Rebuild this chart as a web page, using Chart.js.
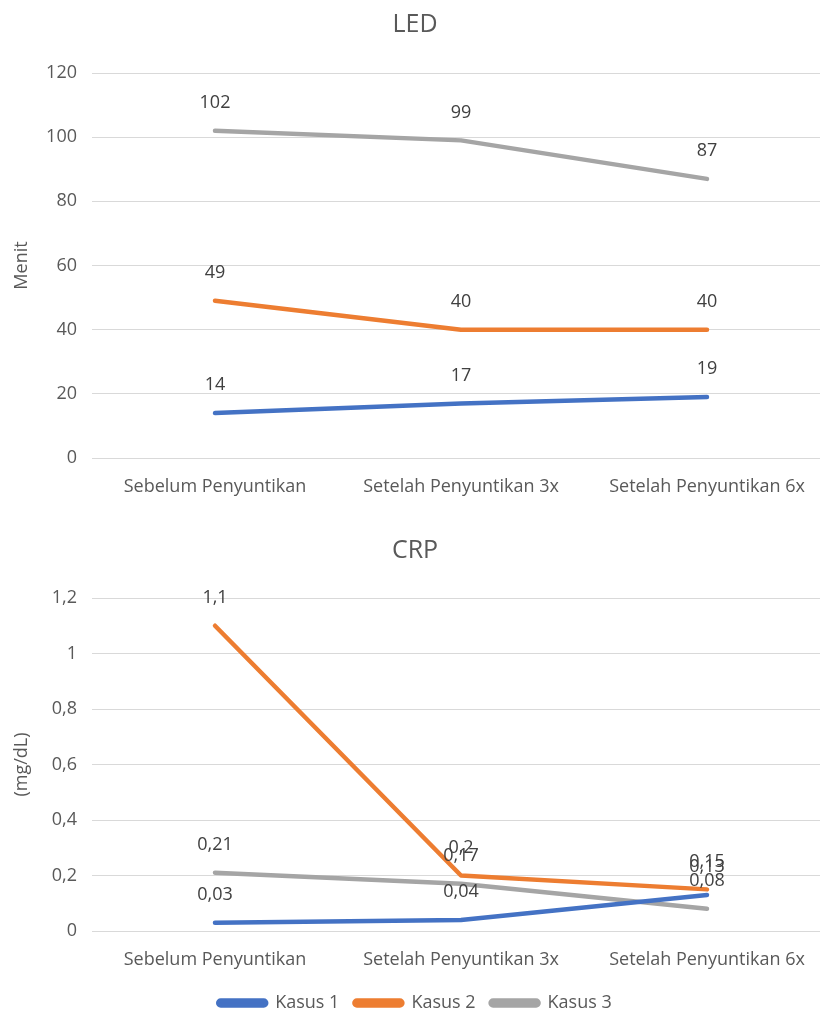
<!DOCTYPE html>
<html>
<head>
<meta charset="utf-8">
<script src="https://cdn.jsdelivr.net/npm/chart.js@4.4.1/dist/chart.umd.min.js"></script>
<style>
  html, body { margin: 0; padding: 0; background: #fff; overflow: hidden; width: 820px; height: 1012px; }
  #w1 { position: absolute; left: 0; top: 0; width: 830px; height: 498px; }
  #w2 { position: absolute; left: 0; top: 520px; width: 830px; height: 502px; }
</style>
</head>
<body>
<div id="w1"><canvas id="c1"></canvas></div>
<div id="w2"><canvas id="c2"></canvas></div>
<script>
const categories = ["Sebelum Penyuntikan", "Setelah Penyuntikan 3x", "Setelah Penyuntikan 6x"];
const seriesNames = ["Kasus 1", "Kasus 2", "Kasus 3"];
const ledKasus1 = [14, 17, 19];
const ledKasus2 = [49, 40, 40];
const ledKasus3 = [102, 99, 87];
const crpKasus1 = [0.03, 0.04, 0.13];
const crpKasus2 = [1.1, 0.2, 0.15];
const crpKasus3 = [0.21, 0.17, 0.08];
const seriesColors = ["#4472C4", "#ED7D31", "#A5A5A5"];

const FONT = "'Open Sans', 'Noto Sans', sans-serif";
const TEXT = "#595959";
const FS = 18;

const fmt = v => String(Math.round(v * 100) / 100).replace('.', ',');

const labelPlugin = {
  id: 'pointLabels',
  afterDatasetsDraw(chart) {
    const ctx = chart.ctx;
    ctx.save();
    ctx.font = FS + "px " + FONT;
    ctx.fillStyle = "#404040";
    ctx.textAlign = "center";
    ctx.textBaseline = "middle";
    chart.data.datasets.forEach((ds, i) => {
      const meta = chart.getDatasetMeta(i);
      meta.data.forEach((pt, j) => {
        ctx.fillText(fmt(ds.data[j]), pt.x, pt.y - 28);
      });
    });
    ctx.restore();
  }
};

function makeDatasets(arrs) {
  return arrs.map((d, i) => ({
    label: seriesNames[i],
    data: d,
    borderColor: seriesColors[i],
    backgroundColor: seriesColors[i],
    borderWidth: 4.5,
    pointRadius: 0,
    borderCapStyle: 'round',
    borderJoinStyle: 'round',
    tension: 0
  }));
}

function makeOptions(cfg) {
  return {
    responsive: true,
    maintainAspectRatio: false,
    animation: false,
    layout: { padding: { left: 0, right: 0, top: 0, bottom: 0 } },
    plugins: {
      title: {
        display: true,
        text: cfg.title,
        color: TEXT,
        font: { family: FONT, size: 25, weight: 'normal' },
        padding: { top: cfg.titleTop, bottom: cfg.titleBottom }
      },
      legend: cfg.legend ? {
        display: true,
        position: 'bottom',
        labels: {
          color: TEXT,
          font: { family: FONT, size: FS },
          boxWidth: 48,
          boxHeight: 5,
          useBorderRadius: true,
          borderRadius: 2.5,
          padding: 15
        }
      } : { display: false },
      tooltip: { enabled: false }
    },
    scales: {
      x: {
        offset: true,
        grid: { display: false, drawTicks: false, offset: true },
        border: { display: false },
        ticks: { color: TEXT, font: { family: FONT, size: FS }, padding: 18, maxRotation: 0 },
        afterFit(scale) { scale.height = cfg.xHeight; }
      },
      y: {
        min: 0,
        max: cfg.max,
        grid: { color: "#D9D9D9", lineWidth: 1, drawTicks: false },
        border: { display: false },
        ticks: {
          stepSize: cfg.step,
          color: TEXT,
          font: { family: FONT, size: FS },
          padding: 15,
          callback: v => fmt(v)
        },
        title: {
          display: true,
          text: cfg.yTitle,
          color: TEXT,
          font: { family: FONT, size: FS },
          padding: { top: 11, bottom: 0 }
        },
        afterFit(scale) { scale.width = 92; }
      }
    }
  };
}

new Chart(document.getElementById('c1'), {
  type: 'line',
  data: { labels: categories, datasets: makeDatasets([ledKasus1, ledKasus2, ledKasus3]) },
  options: makeOptions({ title: 'LED', titleTop: 10, titleBottom: 33, max: 120, step: 20, yTitle: 'Menit', legend: false, xHeight: 40 }),
  plugins: [labelPlugin]
});

new Chart(document.getElementById('c2'), {
  type: 'line',
  data: { labels: categories, datasets: makeDatasets([crpKasus1, crpKasus2, crpKasus3]) },
  options: makeOptions({ title: 'CRP', titleTop: 16, titleBottom: 32, max: 1.2, step: 0.2, yTitle: '(mg/dL)', legend: true, xHeight: 48 }),
  plugins: [labelPlugin]
});
</script>
</body>
</html>
